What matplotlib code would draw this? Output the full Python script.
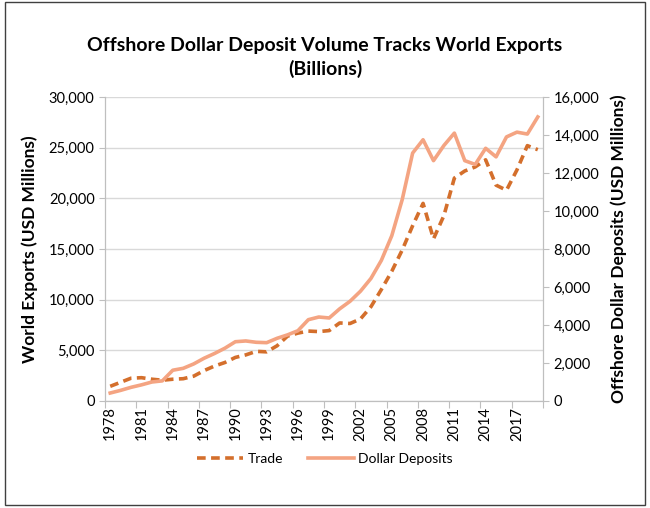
import matplotlib
matplotlib.use("Agg")
import matplotlib.pyplot as plt
from matplotlib.patches import Rectangle
from matplotlib.ticker import FuncFormatter, FixedLocator

# --- data ---
years = list(range(1978, 2020))
trade = [1450, 1850, 2250, 2300, 2150, 2050, 2150, 2200, 2450, 3000,
         3450, 3800, 4300, 4550, 4900, 4850, 5450, 6400, 6700, 6900,
         6850, 6950, 7700, 7650, 8100, 9300, 11000, 12800, 14900, 17300,
         19500, 16000, 18300, 22000, 22700, 23100, 23800, 21300, 20800, 22800,
         25200, 24800]
deposits = [420, 560, 720, 850, 1000, 1060, 1620, 1720, 1950, 2250,
            2500, 2780, 3120, 3160, 3090, 3070, 3300, 3480, 3700, 4280,
            4420, 4370, 4850, 5250, 5780, 6450, 7400, 8700, 10600, 13050,
            13750, 12650, 13450, 14100, 12650, 12450, 13300, 12850, 13900, 14150,
            14050, 14950]
# -------------

plt.rcParams['font.family'] = ['Lato', 'DejaVu Sans']

TRADE_COL = '#D46F2C'
DEP_COL = '#F4A482'
GRID_COL = '#D9D9D9'
AXIS_COL = '#BFBFBF'

fig = plt.figure(figsize=(6.5, 5.08), dpi=100)
ax = fig.add_axes([105/650, 1-401/508, (543-105)/650, (401-97)/508])
ax2 = ax.twinx()

x = list(range(len(years)))
l1, = ax.plot(x, trade, color=TRADE_COL, lw=2.6, ls=(0, (2.4, 1.5)), label='Trade')
l2, = ax2.plot(x, deposits, color=DEP_COL, lw=2.6, label='Dollar Deposits')

ax.set_xlim(-0.5, len(years) - 0.5)
ax.set_ylim(0, 30000)
ax2.set_ylim(0, 16000)
ax.set_yticks(range(0, 30001, 5000))
ax2.set_yticks(range(0, 16001, 2000))
fmt = FuncFormatter(lambda v, p: f'{int(v):,}')
ax.yaxis.set_major_formatter(fmt)
ax2.yaxis.set_major_formatter(fmt)

# category labels every 3 years, tick marks on category boundaries
lab_idx = list(range(0, len(years), 3))
ax.xaxis.set_major_locator(FixedLocator([i - 0.5 for i in lab_idx] + [len(years) - 0.5]))
ax.xaxis.set_minor_locator(FixedLocator(lab_idx))
ax.set_xticklabels([])
ax.set_xticklabels([str(years[i]) for i in lab_idx], minor=True, rotation=90)
ax.tick_params(axis='x', which='major', length=5, color=AXIS_COL)
ax.tick_params(axis='x', which='minor', length=0, labelsize=10.5, pad=4)

ax.grid(axis='y', color=GRID_COL, lw=1)
ax.set_axisbelow(True)
ax.tick_params(axis='y', length=4, color=AXIS_COL, labelsize=10.5)
ax2.tick_params(axis='y', length=4, color=AXIS_COL, labelsize=10.5)

for a in (ax, ax2):
    a.spines['top'].set_visible(False)
    for s in ('left', 'right', 'bottom'):
        a.spines[s].set_color(AXIS_COL)

ax.set_ylabel('World Exports (USD Millions)', fontsize=12.5, fontweight='bold', labelpad=8)
ax2.set_ylabel('Offshore Dollar Deposits (USD Millions)', fontsize=12.5, fontweight='bold', labelpad=8)

fig.text(0.5, 1 - 45/508, 'Offshore Dollar Deposit Volume Tracks World Exports',
         ha='center', va='center', fontsize=14, fontweight='bold')
fig.text(0.5, 1 - 69/508, '(Billions)', ha='center', va='center', fontsize=14, fontweight='bold')

fig.legend(handles=[l1, l2], loc='center', bbox_to_anchor=(325/650, 1 - 459/508), ncol=2,
           frameon=False, fontsize=10, handlelength=3.3, columnspacing=1.8, handletextpad=0.3)

fig.patches.append(Rectangle((5/650, 3/508), 640/650, 503/508, transform=fig.transFigure,
                             fill=False, edgecolor='#404040', lw=1))

fig.savefig('out.png', dpi=100)
